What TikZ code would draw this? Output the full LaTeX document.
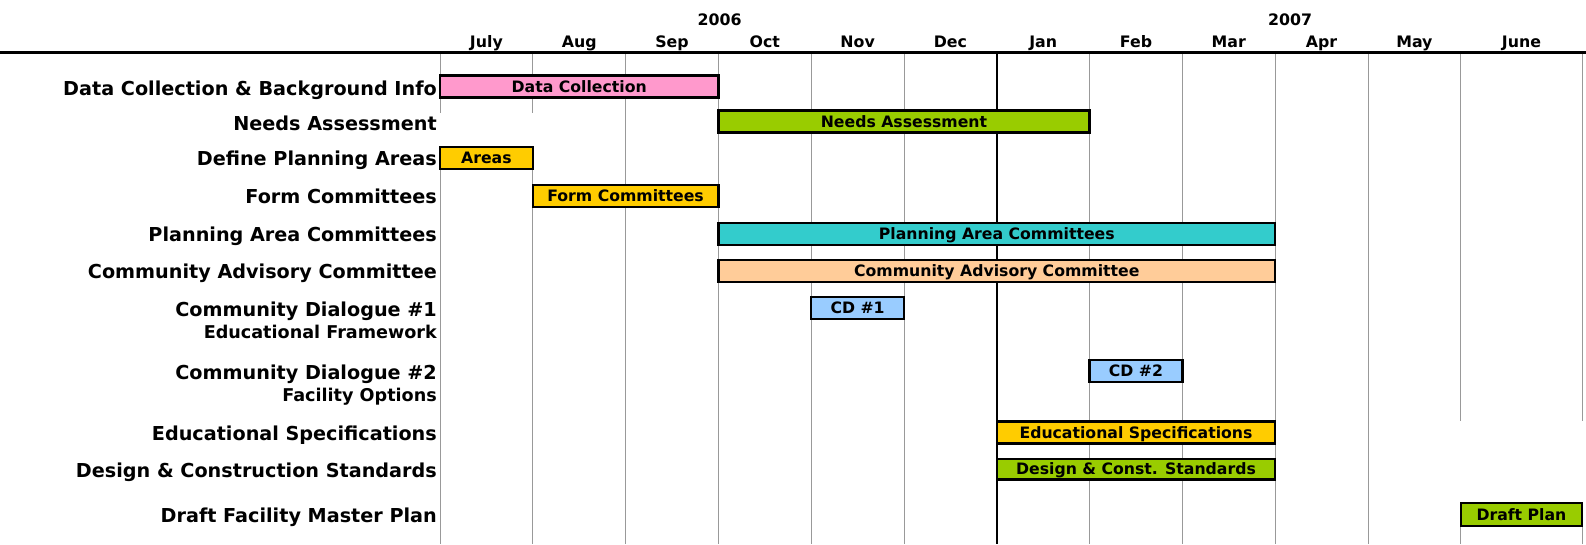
\documentclass[tikz,border=0pt]{standalone}
\usepackage{fontspec}
\setmainfont{DejaVu Sans}
\definecolor{gridgray}{HTML}{999999}
\definecolor{cpink}{HTML}{FF99CC}
\definecolor{cgreen}{HTML}{99CC00}
\definecolor{cgold}{HTML}{FFCC00}
\definecolor{cteal}{HTML}{33CCCC}
\definecolor{cpeach}{HTML}{FFCC99}
\definecolor{cblue}{HTML}{99CCFF}
\tikzset{
  bar/.style={draw=black, line width=2.5pt, minimum height=22pt, inner sep=0pt,
    text height=11.4pt, text depth=0pt,
    font=\bfseries\fontsize{15.7}{16}\selectfont},
  rowlabel/.style={anchor=east, inner sep=0pt, text height=14pt, text depth=0pt,
    font=\bfseries\fontsize{19.2}{20}\selectfont},
  sublabel/.style={anchor=east, inner sep=0pt, text height=12.8pt, text depth=0pt,
    font=\bfseries\fontsize{17.6}{18}\selectfont},
  month/.style={inner sep=0pt, text height=11.5pt, text depth=0pt,
    font=\bfseries\fontsize{15.8}{16}\selectfont},
  gridline/.style={draw=gridgray, line width=1pt},
}
\begin{document}
\begin{tikzpicture}[x=1pt,y=-1pt]
\useasboundingbox (0,0) rectangle (1586,544);
% header
\node[month] (y2006) at (719.5,19.5) {2006};
\node[month] (y2007) at (1290,19.5) {2007};
\node[month] (mjul) at (486.4,41.5) {July};
\node[month] (maug) at (579.2,41.5) {Aug};
\node[month] (msep) at (672,41.5) {Sep};
\node[month] (moct) at (764.8,41.5) {Oct};
\node[month] (mnov) at (857.6,41.5) {Nov};
\node[month] (mdec) at (950.4,41.5) {Dec};
\node[month] (mjan) at (1043.2,41.5) {Jan};
\node[month] (mfeb) at (1136,41.5) {Feb};
\node[month] (mmar) at (1228.8,41.5) {Mar};
\node[month] (mapr) at (1321.6,41.5) {Apr};
\node[month] (mmay) at (1414.4,41.5) {May};
\node[month] (mjun) at (1521.4,41.5) {June};
% grid
\draw[gridline] (440,54) -- (440,113) (440,146) -- (440,544);
\draw[gridline] (532.8,54) -- (532.8,113) (532.8,146) -- (532.8,544);
\foreach \x in {625.6,718.4,811.2,904,1089.6,1182.4,1275.2,1368}
  \draw[gridline] (\x,54) -- (\x,544);
\draw[gridline] (1460.8,54) -- (1460.8,421) (1460.8,503) -- (1460.8,544);
\draw[gridline] (1582,54) -- (1582,421) (1582,503) -- (1582,544);
\draw[line width=2.5pt] (996.8,54) -- (996.8,544);
\draw[line width=3pt] (0,52.5) -- (1586,52.5);
% row labels
\node[rowlabel] (l1) at (437,88) {Data Collection \& Background Info};
\node[rowlabel] (l2) at (437,123.5) {Needs Assessment};
\node[rowlabel] (l3) at (437,158.3) {Define Planning Areas};
\node[rowlabel] (l4) at (437,196.3) {Form Committees};
\node[rowlabel] (l5) at (437,234.5) {Planning Area Committees};
\node[rowlabel] (l6) at (437,271.5) {Community Advisory Committee};
\node[rowlabel] (l7) at (437,309.2) {Community Dialogue \#1};
\node[sublabel] (l7b) at (437,332.5) {Educational Framework};
\node[rowlabel] (l8) at (437,372.5) {Community Dialogue \#2};
\node[sublabel] (l8b) at (437,394.8) {Facility Options};
\node[rowlabel] (l9) at (437,433.7) {Educational Specifications};
\node[rowlabel] (l10) at (437,470) {Design \& Construction Standards};
\node[rowlabel] (l11) at (437,515) {Draft Facility Master Plan};
% bars
\node[bar, fill=cpink, minimum width=278.4pt] (b1) at (579.2,86.4) {Data Collection};
\node[bar, fill=cgreen, minimum width=371.2pt] (b2) at (904,121.7) {Needs Assessment};
\node[bar, fill=cgold, minimum width=92.8pt] (b3) at (486.4,157.8) {Areas};
\node[bar, fill=cgold, minimum width=185.6pt] (b4) at (625.6,195.8) {Form Committees};
\node[bar, fill=cteal, minimum width=556.8pt] (b5) at (996.8,233.8) {Planning Area Committees};
\node[bar, fill=cpeach, minimum width=556.8pt] (b6) at (996.8,271) {Community Advisory Committee};
\node[bar, fill=cblue, minimum width=92.8pt] (b7) at (857.6,307.8) {CD \#1};
\node[bar, fill=cblue, minimum width=92.8pt] (b8) at (1136,371) {CD \#2};
\node[bar, fill=cgold, minimum width=278.4pt] (b9) at (1136,432.5) {Educational Specifications};
\node[bar, fill=cgreen, minimum width=278.4pt, minimum height=20.5pt] (b10) at (1136,469) {Design \& Const. Standards};
\node[bar, fill=cgreen, minimum width=121.2pt, minimum height=23pt] (b11) at (1521.4,514.5) {Draft Plan};
\end{tikzpicture}
\end{document}
